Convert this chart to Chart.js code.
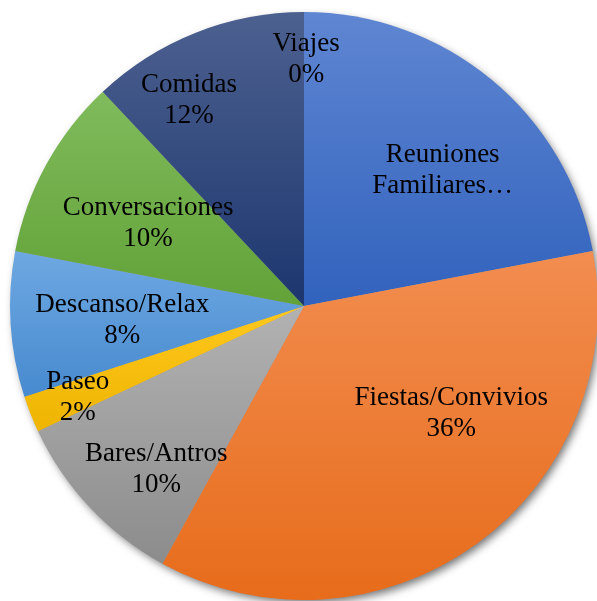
<!DOCTYPE html>
<html>
<head>
<meta charset="utf-8">
<script src="https://cdn.jsdelivr.net/npm/chart.js@4.4.1/dist/chart.umd.min.js"></script>
<style>
  html, body { margin: 0; padding: 0; background: #fff; overflow: hidden; }
  #wrap { position: relative; width: 600px; height: 601px; }
</style>
</head>
<body>
<div id="wrap"><canvas id="chart"></canvas></div>
<script>
// categories, clockwise from 12 o'clock
const categories = ['Reuniones Familiares', 'Fiestas/Convivios', 'Bares/Antros', 'Paseo',
  'Descanso/Relax', 'Conversaciones', 'Comidas', 'Viajes'];
const shares = [22, 36, 10, 2, 8, 10, 12, 0];

// text shown inside each slice (first one is cut off)
const labelLines = [
  ['Reuniones', 'Familiares…'], ['Fiestas/Convivios'], ['Bares/Antros'], ['Paseo'],
  ['Descanso/Relax'], ['Conversaciones'], ['Comidas'], ['Viajes']
];
const showPercent = [false, true, true, true, true, true, true, true];

// gradient stops, top -> bottom
const topColors = ['#5f86d2', '#f28d50', '#b2b2b2', '#ffc81e', '#6ea8e2', '#80bb5c', '#4d6190', '#4d6190'];
const bottomColors = ['#3162bd', '#e76c1b', '#8c8c8c', '#eeb400', '#478acf', '#62a238', '#1c366e', '#1c366e'];

// label anchor: angle (deg, clockwise from top) and fraction of radius
const labelAnchors = [[45.6, 0.66], [126.1, 0.62], [222.1, 0.75], [248, 0.83],
  [265.6, 0.62], [297.9, 0.60], [330.7, 0.80], [0.5, 0.84]];

const total = shares.reduce((a, b) => a + b, 0);
const labelFont = '27px "Liberation Serif", "Times New Roman", serif';

function sliceGradient(ctx) {
  const chart = ctx.chart;
  const area = chart.chartArea;
  const i = ctx.dataIndex;
  if (!area) return topColors[i];
  const cx = (area.left + area.right) / 2;
  const cy = (area.top + area.bottom) / 2;
  const r = Math.min(area.right - area.left, area.bottom - area.top) / 2;
  let before = 0;
  for (let k = 0; k < i; k++) before += shares[k];
  const a0 = -Math.PI / 2 + before / total * Math.PI * 2;
  const a1 = a0 + shares[i] / total * Math.PI * 2;
  const ys = [cy, cy + r * Math.sin(a0), cy + r * Math.sin(a1)];
  // top / bottom extremes inside the sweep
  [-Math.PI / 2, Math.PI / 2, Math.PI * 1.5].forEach(a => {
    if (a >= a0 && a <= a1) ys.push(cy + r * Math.sin(a));
  });
  const y0 = Math.min(...ys), y1 = Math.max(...ys);
  const g = chart.ctx.createLinearGradient(0, y0, 0, Math.max(y1, y0 + 1));
  g.addColorStop(0, topColors[i]);
  g.addColorStop(1, bottomColors[i]);
  return g;
}

const pieShadow = {
  id: 'pieShadow',
  beforeDatasetsDraw(chart) {
    const arc = chart.getDatasetMeta(0).data[0];
    if (!arc) return;
    const c = chart.ctx;
    c.save();
    c.shadowColor = 'rgba(0,0,0,0.55)';
    c.shadowBlur = 9;
    c.shadowOffsetX = 3;
    c.shadowOffsetY = 4;
    c.fillStyle = '#9a9a9a';
    c.beginPath();
    c.arc(arc.x, arc.y, arc.outerRadius - 1, 0, Math.PI * 2);
    c.fill();
    c.restore();
  }
};

const sliceLabels = {
  id: 'sliceLabels',
  afterDatasetsDraw(chart) {
    const c = chart.ctx;
    const arcs = chart.getDatasetMeta(0).data;
    c.save();
    c.font = labelFont;
    c.fillStyle = '#000';
    c.textAlign = 'center';
    c.textBaseline = 'middle';
    arcs.forEach((arc, i) => {
      const lines = labelLines[i].slice();
      if (showPercent[i]) lines.push(Math.round(shares[i] / total * 100) + '%');
      const ang = labelAnchors[i][0] * Math.PI / 180;
      const rr = labelAnchors[i][1] * arc.outerRadius;
      const x = arc.x + rr * Math.sin(ang);
      const y = arc.y - rr * Math.cos(ang);
      const lh = 31;
      const startY = y - (lines.length - 1) * lh / 2;
      lines.forEach((t, k) => c.fillText(t, x, startY + k * lh));
    });
    c.restore();
  }
};

new Chart(document.getElementById('chart'), {
  type: 'pie',
  data: {
    labels: categories,
    datasets: [{
      data: shares,
      backgroundColor: sliceGradient,
      borderWidth: 0
    }]
  },
  options: {
    responsive: true,
    maintainAspectRatio: false,
    animation: false,
    layout: { padding: { left: 10, right: 2, top: 12, bottom: 1 } },
    plugins: {
      legend: { display: false },
      tooltip: { enabled: false }
    }
  },
  plugins: [pieShadow, sliceLabels]
});
</script>
</body>
</html>
